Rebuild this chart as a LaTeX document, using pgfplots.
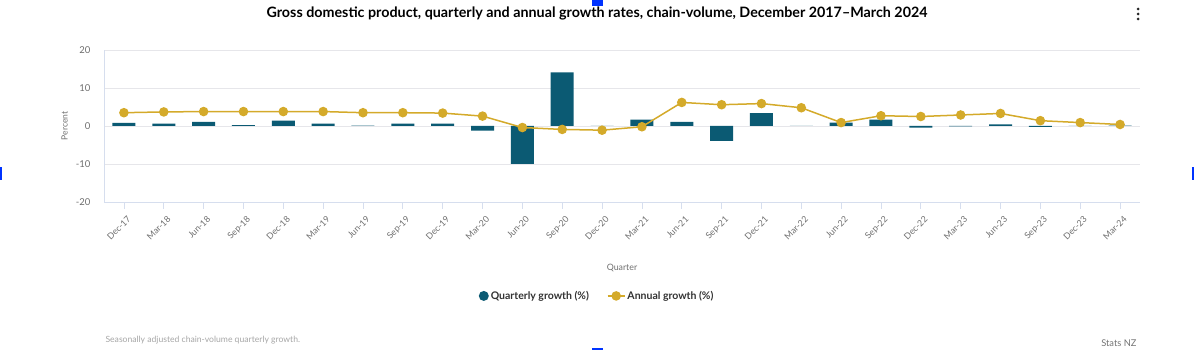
\documentclass[border=0pt]{standalone}
\usepackage{pgfplots}
\pgfplotsset{compat=1.18}
\usepackage{fontspec}
\setmainfont{Lato}
\definecolor{teal1}{RGB}{11,90,115}
\definecolor{gold1}{RGB}{212,170,42}
\definecolor{axisblue}{RGB}{214,222,238}
\definecolor{gridgray}{RGB}{230,230,234}
\definecolor{txtgray}{RGB}{110,110,110}
\pgfplotstableread{
x q a
0 0.8 3.5
1 0.6 3.7
2 1.1 3.8
3 0.2 3.8
4 1.4 3.8
5 0.6 3.8
6 0.1 3.5
7 0.6 3.5
8 0.6 3.4
9 -1.2 2.6
10 -10.0 -0.4
11 14.1 -0.9
12 0.0 -1.1
13 1.7 -0.2
14 1.1 6.2
15 -3.9 5.6
16 3.4 5.9
17 0.0 4.8
18 0.9 0.9
19 1.7 2.7
20 -0.4 2.5
21 -0.1 2.9
22 0.4 3.3
23 -0.2 1.4
24 0.0 0.9
25 0.1 0.4
}\gdp
\begin{document}
\begin{tikzpicture}[x=1pt,y=1pt]
\useasboundingbox (0,0) rectangle (1194,350);
\node[font=\bfseries\fontsize{14.3}{16}\selectfont] at (597,337) {Gross domestic product, quarterly and annual growth rates, chain-volume, December 2017--March 2024};
\foreach \yy in {331,336,341} \fill[black!85] (1138,\yy) circle (1.5);
\fill[blue!80!cyan] (0,170) rectangle (2,183);
\fill[blue!80!cyan] (1192,170) rectangle (1194,183);
\fill[blue!80!cyan] (592,344) rectangle (603,350);
\fill[blue!80!cyan] (592,0) rectangle (603,1.5);
\begin{axis}[
  scale only axis, width=1036pt, height=152pt,
  at={(104pt,148pt)}, anchor=south west,
  xmin=-0.5, xmax=25.5, ymin=-20, ymax=20,
  ytick={-20,-10,0,10,20},
  xtick={0,...,25},
  xticklabels={Dec-17,Mar-18,Jun-18,Sep-18,Dec-18,Mar-19,Jun-19,Sep-19,Dec-19,Mar-20,Jun-20,Sep-20,Dec-20,Mar-21,Jun-21,Sep-21,Dec-21,Mar-22,Jun-22,Sep-22,Dec-22,Mar-23,Jun-23,Sep-23,Dec-23,Mar-24},
  x tick label style={rotate=45, anchor=north east, font=\fontsize{8.8}{10}\selectfont, text=txtgray, yshift=-3pt, xshift=1pt},
  y tick label style={font=\fontsize{9.5}{11}\selectfont, text=txtgray, xshift=-10pt},
  /pgf/number format/assume math mode=true,
  axis x line*=bottom, axis y line*=left,
  axis line style={axisblue, line width=0.8pt},
  x axis line style={-}, y axis line style={-},
  xtick style={axisblue, line width=0.8pt},
  major x tick style={axisblue},
  xtick align=outside, major tick length=7pt,
  ytick style={draw=none},
  ymajorgrids, grid style={gridgray, line width=0.8pt},
  xlabel={Quarter}, xlabel style={font=\fontsize{8.8}{10}\selectfont, text=txtgray, at={(axis description cs:0.5,-0.434)}, anchor=center},
  ylabel={Percent}, ylabel style={font=\fontsize{8.5}{10}\selectfont, text=txtgray, at={(axis description cs:-0.038,0.5)}, anchor=center, rotate=0},
  legend style={draw=none, at={(0.476,-0.618)}, anchor=center, font=\bfseries\fontsize{10.5}{12}\selectfont, text=black!80, legend columns=2, /tikz/every even column/.append style={column sep=16pt}},
  clip=false,
]
\addplot[ybar, bar width=23pt, fill=teal1, draw=none, bar shift=0pt,
  legend image code/.code={\fill[teal1] (0.3cm,0cm) circle (5pt);}] table[x=x,y=q] {\gdp};
\addlegendentry{Quarterly growth (\%)}
\addplot[gold1, line width=1.5pt, mark=*, mark size=4pt, mark options={fill=gold1, draw=gold1}] table[x=x,y=a] {\gdp};
\addlegendentry{Annual growth (\%)}
\end{axis}
\node[anchor=west, font=\fontsize{8.6}{10}\selectfont, text=black!35] at (102,10) {Seasonally adjusted chain-volume quarterly growth.};
\node[anchor=east, font=\fontsize{9.3}{10}\selectfont, text=black!55] at (1140,7) {Stats NZ};
\end{tikzpicture}
\end{document}
